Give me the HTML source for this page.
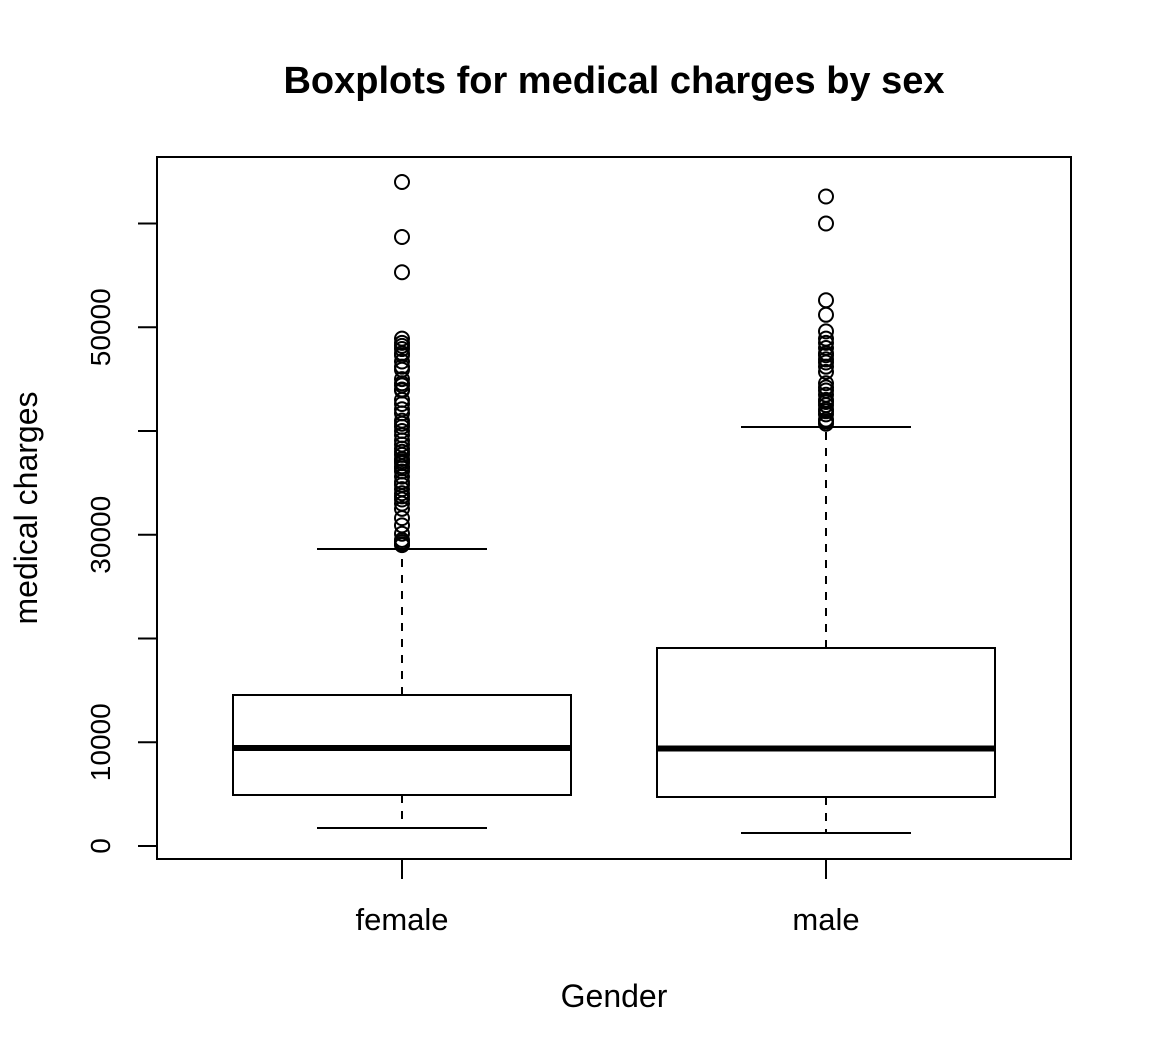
<!DOCTYPE html>
<html><head><meta charset="utf-8"><style>
html,body{margin:0;padding:0;background:#fff;}
svg{display:block;font-family:"Liberation Sans",Arial,sans-serif;}
</style></head><body>
<svg id="chart" width="1152" height="1056" viewBox="0 0 1152 1056" xmlns="http://www.w3.org/2000/svg">
<text x="614" y="93" text-anchor="middle" font-size="38" font-weight="bold">Boxplots for medical charges by sex</text>
<rect x="157" y="157" width="914" height="702" fill="none" stroke="#000" stroke-width="2"/>
<g id="yaxis"></g>
<g id="xaxis"></g>
<g id="boxes"></g>
<text x="614" y="1007" text-anchor="middle" font-size="32">Gender</text>
<text transform="translate(37,508) rotate(-90)" text-anchor="middle" font-size="32">medical charges</text>
</svg>
<script>
const categories = ["female", "male"];
const lowWhisker = [1735, 1253];
const q1 = [4916, 4723];
const median = [9446, 9400];
const q3 = [14554, 19084];
const highWhisker = [28626, 40386];
const femaleOutliers = [64000,58700,55300,48900,48500,48200,47900,47500,47300,46700,46200,45900,45000,44600,44400,44000,43900,43000,42600,42100,41700,41000,40700,40400,40000,39600,39100,38700,38300,38000,37700,37300,37100,36900,36600,36400,36100,35600,35100,34800,34400,34000,33700,33400,33000,32500,31600,30900,30100,29500,29300,29100,29000];
const maleOutliers = [62600,60000,52600,51200,49600,48900,48500,48000,47500,47300,46900,46600,46200,45700,44600,44200,43900,43500,43000,42800,42500,42100,41900,41600,41100,40900,40700];
const outliers = [femaleOutliers, maleOutliers];
const yTicks = [0,10000,20000,30000,40000,50000,60000];
const yTickLabels = ["0","10000","","30000","","50000",""];

const NS = "http://www.w3.org/2000/svg";
function y(v){ return 846 - v*0.010375; }
function x(i){ return 402 + i*424; }
function mk(tag, attrs, parent){
  const e = document.createElementNS(NS, tag);
  for (const k in attrs) e.setAttribute(k, attrs[k]);
  parent.appendChild(e); return e;
}
const ya = document.getElementById('yaxis');
yTicks.forEach((t,i)=>{
  const l = mk('line',{x1:138,x2:157,y1:y(t),y2:y(t),stroke:'#000','stroke-width':2},ya);
  
  
  if (yTickLabels[i]) {
    const tx = mk('text',{transform:`translate(110,${y(t)}) rotate(-90)`,'text-anchor':'middle','font-size':28},ya);
    tx.textContent = yTickLabels[i];
    
    
  }
});
const xa = document.getElementById('xaxis');
const bx = document.getElementById('boxes');
categories.forEach((c,i)=>{
  const cx = x(i);
  const tk = mk('line',{x1:cx,x2:cx,y1:859,y2:879,stroke:'#000','stroke-width':2},xa);
  
  
  const lb = mk('text',{x:cx,y:930,'text-anchor':'middle','font-size':31},xa);
  lb.textContent = c;
  
  
  const g = mk('g',{},bx);
  
  
  mk('line',{x1:cx,x2:cx,y1:y(q1[i]),y2:y(lowWhisker[i]),stroke:'#000','stroke-width':2,'stroke-dasharray':'8,8'},g);
  mk('line',{x1:cx,x2:cx,y1:y(q3[i]),y2:y(highWhisker[i]),stroke:'#000','stroke-width':2,'stroke-dasharray':'8,8'},g);
  mk('line',{x1:cx-85,x2:cx+85,y1:y(lowWhisker[i]),y2:y(lowWhisker[i]),stroke:'#000','stroke-width':2},g);
  mk('line',{x1:cx-85,x2:cx+85,y1:y(highWhisker[i]),y2:y(highWhisker[i]),stroke:'#000','stroke-width':2},g);
  mk('rect',{x:cx-169,width:338,y:y(q3[i]),height:y(q1[i])-y(q3[i]),fill:'#fff',stroke:'#000','stroke-width':2},g);
  mk('line',{x1:cx-169,x2:cx+169,y1:y(median[i]),y2:y(median[i]),stroke:'#000','stroke-width':6},g);
  outliers[i].forEach(v=>{
    const p = mk('circle',{cx:cx,cy:y(v),r:7,fill:'none',stroke:'#000','stroke-width':2},g);
    
    
  });
});
</script>
</body></html>
